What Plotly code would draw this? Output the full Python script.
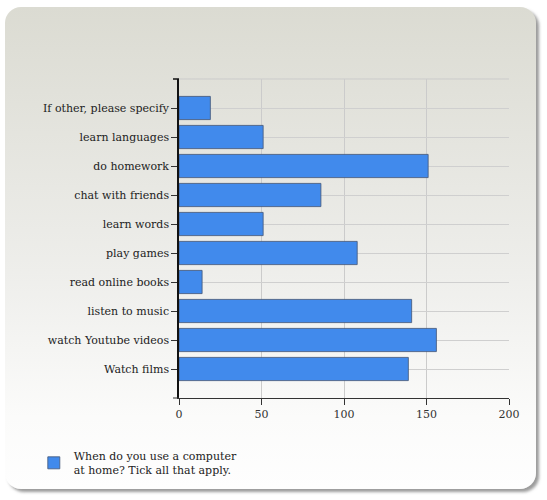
import base64
import plotly.graph_objects as go

# ---- data (bottom to top) ----
categories = [
    "Watch films",
    "watch Youtube videos",
    "listen to music",
    "read online books",
    "play games",
    "learn words",
    "chat with friends",
    "do homework",
    "learn languages",
    "If other, please specify",
]
values = [139, 156, 141, 14, 108, 51, 86, 151, 51, 19]
series_name = "When do you use a computer<br>at home? Tick all that apply."
x_ticks = [0, 50, 100, 150, 200]

W, H = 547, 500
L, R, T, B = 179, 38, 79, 102
PW, PH = W - L - R, H - T - B

svg = f'''<svg xmlns="http://www.w3.org/2000/svg" width="{W}" height="{H}" viewBox="0 0 {W} {H}">
<defs>
<linearGradient id="g" x1="0" y1="0" x2="0" y2="1">
<stop offset="0" stop-color="#dbdbd2"/>
<stop offset="0.55" stop-color="#eeeeeb"/>
<stop offset="0.85" stop-color="#fbfbfa"/>
<stop offset="1" stop-color="#fefefe"/>
</linearGradient>
<filter id="s" x="-5%" y="-5%" width="110%" height="110%">
<feDropShadow dx="3" dy="3" stdDeviation="1.6" flood-color="#7a7a7a" flood-opacity="0.75"/>
</filter>
</defs>
<rect x="0" y="0" width="{W}" height="{H}" fill="#ffffff"/>
<rect x="5" y="7" width="531" height="482" rx="16" ry="16" fill="url(#g)" filter="url(#s)"/>
</svg>'''
bg_src = "data:image/svg+xml;base64," + base64.b64encode(svg.encode()).decode()

font_family = "DejaVu Serif, Liberation Serif, serif"

fig = go.Figure()
fig.add_trace(go.Bar(
    y=categories,
    x=values,
    orientation="h",
    name=series_name,
    width=0.8,
    marker=dict(color="#418aec", line=dict(color="rgba(70,90,125,0.85)", width=1)),
    showlegend=True,
))

fig.update_layout(
    width=W, height=H,
    margin=dict(l=L, r=R, t=T, b=B, pad=0),
    paper_bgcolor="#ffffff",
    plot_bgcolor="rgba(0,0,0,0)",
    font=dict(family=font_family, size=11, color="#222222"),
    images=[dict(
        source=bg_src, xref="paper", yref="paper",
        x=-L / PW, y=1 + T / PH, sizex=W / PW, sizey=H / PH,
        xanchor="left", yanchor="top", sizing="stretch", layer="below",
    )],
    xaxis=dict(
        range=[0, 200], tickvals=x_ticks, ticktext=[str(v) for v in x_ticks],
        showgrid=True, gridcolor="#cbcbcb", gridwidth=1,
        zeroline=False, showline=True, linecolor="#333333", linewidth=1,
        ticks="outside", ticklen=6, tickcolor="#333333",
        tickfont=dict(size=11, color="#333333"), fixedrange=True,
    ),
    yaxis=dict(
        type="category", categoryorder="array", categoryarray=categories,
        range=[-1, len(categories)],
        showgrid=True, gridcolor="#cfcfcf", gridwidth=1,
        zeroline=False, showline=True, linecolor="#111111", linewidth=1.5,
        ticks="outside", ticklen=6, tickcolor="#333333",
        tickfont=dict(size=11, color="#222222"), fixedrange=True,
    ),
    legend=dict(
        x=-0.44, y=-0.138, xanchor="left", yanchor="top",
        bgcolor="rgba(0,0,0,0)", font=dict(size=11, color="#222222"),
        itemclick=False, itemdoubleclick=False,
    ),
    bargap=0.2,
    shapes=[
        dict(type="line", xref="paper", yref="paper", x0=0, x1=1, y0=1, y1=1,
             line=dict(color="#cbcbcb", width=1), layer="below"),
        dict(type="line", xref="paper", yref="paper", x0=-6 / PW, x1=0, y0=1, y1=1,
             line=dict(color="#111111", width=1.5)),
        dict(type="line", xref="paper", yref="paper", x0=-6 / PW, x1=0, y0=0, y1=0,
             line=dict(color="#333333", width=1)),
    ],
)

fig.write_html("out.html", config={"displayModeBar": False})
